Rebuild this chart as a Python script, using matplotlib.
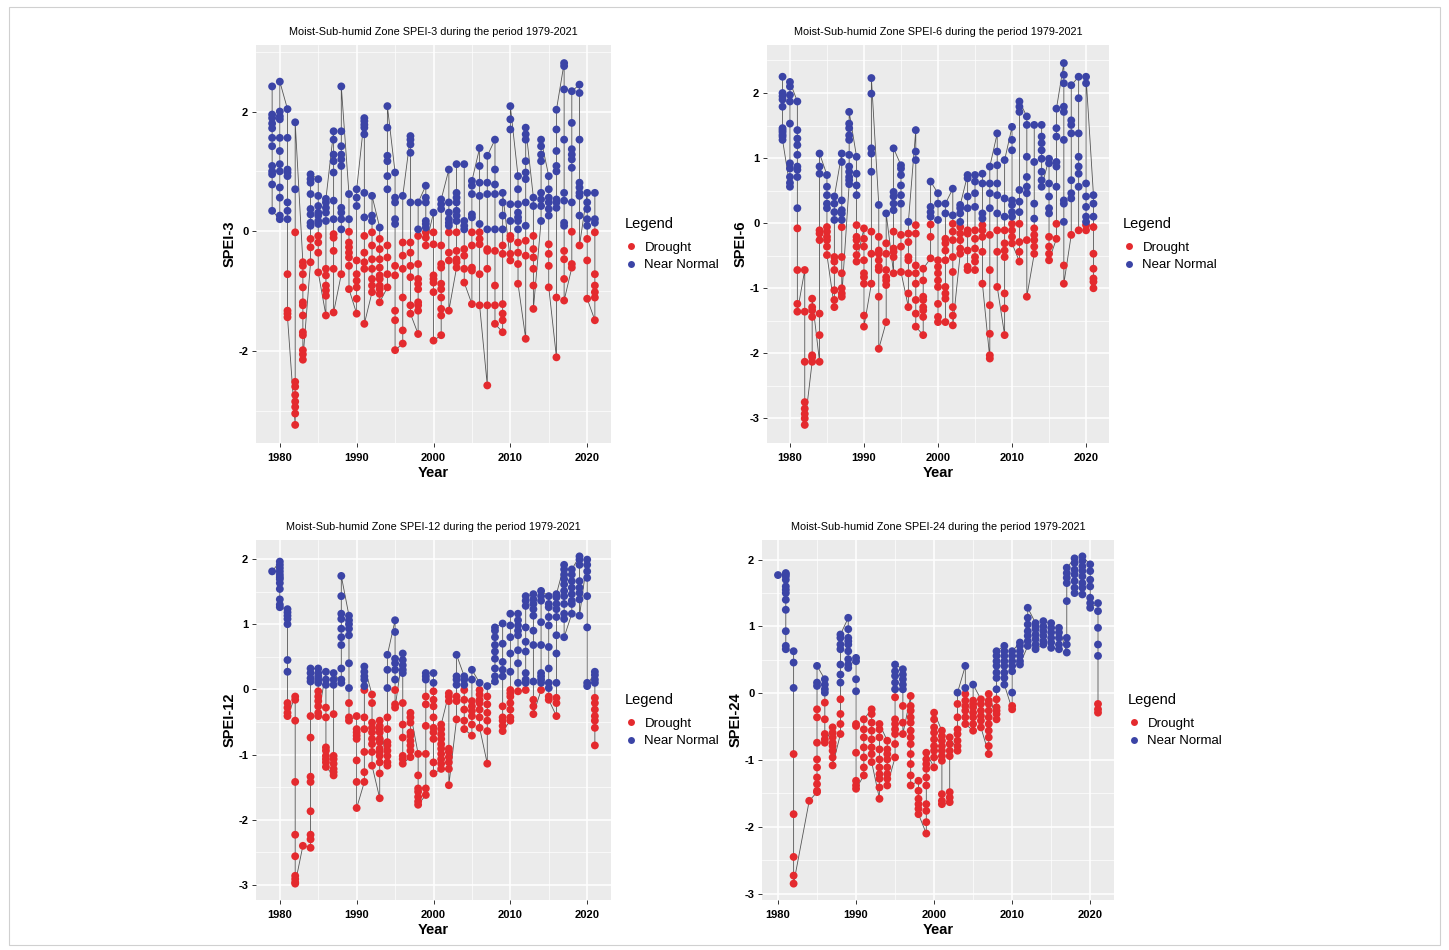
import numpy as np
import matplotlib.pyplot as plt
from matplotlib.lines import Line2D
from matplotlib.patches import Rectangle
from matplotlib.ticker import MultipleLocator

plt.rcParams['font.family'] = ['Liberation Sans', 'DejaVu Sans']
plt.rcParams['axes.unicode_minus'] = False

# Years 1979..2021, one list of monthly values per year
years = list(range(1979, 2022))

spei3 = [
	[2.42, 1.95, 1.89, 1.8, 1.72, 1.56, 1.42, 1.09, 1.0, 0.95, 0.78, 0.34],
	[2.5, 2.0, 1.92, 1.87, 1.56, 1.34, 1.12, 1.0, 0.73, 0.56, 0.26, 0.2],
	[2.04, 1.56, 1.03, 0.98, 0.92, 0.48, 0.34, 0.2, -0.72, -1.33, -1.38, -1.44],
	[1.82, 0.7, -0.02, -2.52, -2.6, -2.74, -2.85, -2.94, -3.05, -3.24],
	[-0.52, -0.58, -0.72, -0.94, -1.19, -1.24, -1.41, -1.69, -1.74, -1.99, -2.06, -2.15],
	[0.95, 0.87, 0.81, 0.62, 0.37, 0.28, 0.14, 0.09, -0.13, -0.27, -0.52],
	[0.87, 0.59, 0.42, 0.31, 0.26, 0.17, 0.12, -0.08, -0.19, -0.36, -0.69],
	[0.54, 0.48, 0.39, 0.31, 0.17, -0.63, -0.74, -0.91, -0.99, -1.08, -1.41],
	[1.67, 1.53, 1.28, 1.17, 0.98, 0.51, 0.2, -0.05, -0.11, -0.33, -0.63, -1.36],
	[2.42, 1.67, 1.42, 1.28, 1.2, 1.09, 0.39, 0.31, 0.2, 0.03, -0.72],
	[0.62, 0.2, -0.01, -0.19, -0.27, -0.36, -0.44, -0.58, -0.97],
	[0.7, 0.56, 0.42, -0.49, -0.72, -0.83, -0.94, -1.13, -1.38],
	[1.89, 1.84, 1.78, 1.73, 1.62, 0.64, 0.23, -0.08, -0.36, -0.52, -0.63, -1.55],
	[0.59, 0.26, 0.17, -0.02, -0.24, -0.47, -0.63, -0.8, -0.91, -1.02],
	[0.06, -0.13, -0.3, -0.47, -0.61, -0.74, -0.8, -0.91, -0.97, -1.05, -1.19],
	[2.09, 1.73, 1.26, 1.17, 0.92, 0.7, -0.24, -0.44, -0.72, -0.94],
	[0.98, 0.56, 0.48, 0.2, 0.12, -0.58, -0.74, -1.33, -1.49, -1.99],
	[0.59, -0.19, -0.41, -0.63, -1.11, -1.66, -1.88],
	[1.59, 1.53, 1.45, 1.31, 0.48, -0.19, -0.36, -0.58, -0.77, -1.24, -1.38],
	[0.48, 0.03, -0.08, -0.55, -0.8, -0.88, -0.97, -1.19, -1.24, -1.33, -1.72],
	[0.76, 0.56, 0.48, 0.17, 0.12, 0.06, -0.02, -0.11, -0.24],
	[0.31, -0.02, -0.22, -0.74, -0.8, -0.86, -1.02, -1.83],
	[0.53, 0.45, 0.37, -0.24, -0.55, -0.61, -0.88, -0.97, -1.11, -1.3, -1.41, -1.74],
	[1.03, 0.48, 0.31, 0.2, 0.14, 0.09, -0.02, -0.36, -0.49, -1.33],
	[1.12, 0.64, 0.56, 0.48, 0.34, 0.26, 0.17, -0.02, -0.33, -0.47, -0.52, -0.61],
	[1.12, 0.17, 0.09, 0.03, -0.3, -0.41, -0.63, -0.86],
	[0.84, 0.76, 0.62, 0.28, 0.23, -0.02, -0.24, -0.61, -0.66, -1.22],
	[1.39, 1.09, 0.81, 0.59, 0.12, -0.02, -0.13, -0.22, -0.72, -1.24],
	[1.26, 0.81, 0.62, 0.03, -0.3, -0.33, -0.63, -1.24, -2.58],
	[1.53, 1.03, 0.78, 0.62, 0.03, -0.33, -0.91, -1.24, -1.55],
	[0.64, 0.48, 0.26, 0.03, -0.24, -0.38, -1.22, -1.38, -1.49, -1.69],
	[2.09, 1.87, 1.7, 0.45, 0.17, -0.08, -0.13, -0.38, -0.49],
	[0.92, 0.7, 0.45, 0.31, 0.23, 0.17, 0.03, -0.19, -0.36, -0.55, -0.88],
	[1.73, 1.62, 1.53, 1.17, 0.98, 0.87, 0.48, 0.09, -0.16, -0.41, -1.8],
	[0.56, 0.42, -0.08, -0.3, -0.44, -0.63, -0.91, -1.3],
	[1.53, 1.42, 1.28, 1.17, 0.64, 0.53, 0.42, 0.17],
	[0.92, 0.7, 0.56, 0.48, 0.37, 0.26, -0.22, -0.38, -0.58, -0.94],
	[2.03, 1.7, 1.34, 1.09, 1.0, 0.53, 0.48, 0.39, -1.11, -2.11],
	[2.81, 2.76, 2.37, 1.53, 0.64, 0.51, 0.14, 0.09, -0.33, -0.47, -0.8, -1.16],
	[2.34, 1.81, 1.37, 1.28, 1.2, 1.06, 0.48, -0.01, -0.55, -0.61],
	[2.45, 2.31, 1.53, 0.81, 0.73, 0.64, 0.59, 0.26, -0.24],
	[0.64, 0.48, 0.37, 0.2, 0.09, -0.13, -0.49, -1.13],
	[0.64, 0.2, 0.14, -0.02, -0.72, -0.91, -1.02, -1.11, -1.49],
]

spei6 = [
	[2.25, 2.0, 1.95, 1.9, 1.79, 1.46, 1.43, 1.4, 1.36, 1.33, 1.28],
	[2.17, 2.1, 1.97, 1.87, 1.53, 0.92, 0.84, 0.71, 0.62, 0.56],
	[1.87, 1.43, 1.3, 1.2, 1.05, 0.87, 0.82, 0.71, 0.23, -0.08, -0.72, -1.24, -1.36],
	[-0.72, -1.36, -2.13, -2.75, -2.85, -2.93, -3.0, -3.1],
	[-1.16, -1.29, -1.34, -1.44, -2.03, -2.06, -2.13],
	[1.07, 0.87, 0.76, -0.11, -0.16, -0.26, -1.39, -1.72, -2.13],
	[0.74, 0.56, 0.43, 0.3, 0.23, -0.06, -0.13, -0.21, -0.26, -0.36, -0.49],
	[0.41, 0.3, 0.17, 0.05, -0.52, -0.59, -0.72, -1.03, -1.18, -1.29],
	[1.07, 0.94, 0.35, 0.2, 0.15, 0.05, -0.06, -0.52, -0.77, -1.0, -1.08, -1.13],
	[1.71, 1.53, 1.46, 1.35, 1.28, 1.05, 0.87, 0.79, 0.71, 0.66, 0.6],
	[1.02, 0.76, 0.58, 0.43, -0.03, -0.21, -0.26, -0.36, -0.49, -0.59],
	[-0.08, -0.24, -0.36, -0.57, -0.77, -0.83, -0.93, -1.42, -1.59],
	[2.23, 1.99, 1.15, 1.07, 0.79, -0.13, -0.47, -0.93],
	[0.28, -0.21, -0.42, -0.47, -0.57, -0.67, -0.72, -1.13, -1.93],
	[0.15, -0.31, -0.47, -0.72, -0.83, -0.88, -0.95, -1.52],
	[1.15, 0.48, 0.41, 0.3, 0.2, -0.13, -0.39, -0.44, -0.52, -0.77],
	[0.89, 0.84, 0.74, 0.58, 0.43, 0.3, -0.18, -0.36, -0.75],
	[0.02, -0.16, -0.29, -0.52, -0.57, -0.77, -1.08, -1.29],
	[1.43, 1.1, 0.97, -0.03, -0.16, -0.65, -0.77, -0.93, -1.18, -1.39, -1.59],
	[-0.7, -0.88, -1.13, -1.18, -1.29, -1.34, -1.44, -1.72],
	[0.64, 0.25, 0.17, 0.1, -0.02, -0.21, -0.54],
	[0.46, 0.3, 0.05, -0.57, -0.67, -0.77, -0.88, -0.98, -1.24, -1.44, -1.52],
	[0.3, 0.15, -0.24, -0.31, -0.42, -0.57, -0.98, -1.08, -1.16, -1.52],
	[0.53, 0.12, -0.01, -0.13, -0.26, -0.52, -0.75, -1.29, -1.42, -1.57],
	[0.28, 0.23, 0.15, 0.02, -0.06, -0.16, -0.26, -0.39, -0.47],
	[0.74, 0.69, 0.41, 0.23, -0.11, -0.16, -0.42, -0.67, -0.72],
	[0.74, 0.64, 0.46, 0.25, -0.11, -0.24, -0.39, -0.52, -0.59, -0.72],
	[0.76, 0.61, 0.15, 0.07, -0.03, -0.11, -0.21, -0.44, -0.93],
	[0.87, 0.61, 0.46, 0.23, -0.18, -0.72, -1.26, -1.7, -2.03, -2.08],
	[1.38, 1.1, 0.89, 0.61, 0.43, 0.15, -0.11, -0.44, -0.98],
	[0.97, 0.38, 0.1, -0.11, -0.31, -0.42, -0.52, -1.08, -1.31, -1.72],
	[1.48, 1.28, 1.12, 0.35, 0.28, 0.17, 0.1, -0.01, -0.11, -0.21, -0.31],
	[1.87, 1.79, 1.71, 0.51, 0.33, 0.17, -0.01, -0.29, -0.44, -0.59],
	[1.64, 1.51, 1.02, 0.71, 0.56, 0.46, -0.26, -1.13],
	[1.51, 0.94, 0.3, 0.07, -0.08, -0.18, -0.26, -0.36, -0.47],
	[1.51, 1.33, 1.23, 1.12, 0.99, 0.79, 0.66, 0.56],
	[0.99, 0.92, 0.61, 0.41, 0.23, 0.15, -0.21, -0.36, -0.47, -0.57],
	[1.76, 1.46, 1.33, 0.94, 0.87, 0.56, -0.01, -0.24],
	[2.46, 2.28, 2.15, 1.79, 1.71, 1.28, 0.35, 0.3, 0.02, -0.65, -0.93],
	[2.12, 1.58, 1.51, 1.38, 0.66, 0.46, 0.38, -0.18],
	[2.25, 1.92, 1.38, 1.02, 0.87, 0.76, 0.56, -0.11],
	[2.25, 2.15, 0.61, 0.41, 0.25, 0.1, 0.02, -0.03, -0.11],
	[0.43, 0.3, 0.1, -0.06, -0.47, -0.7, -0.85, -0.9, -1.0],
]

spei12 = [
	[1.81],
	[1.96, 1.91, 1.86, 1.81, 1.76, 1.72, 1.69, 1.63, 1.54, 1.38, 1.3, 1.26],
	[1.23, 1.18, 1.13, 1.08, 1.0, 0.45, 0.27, -0.21, -0.28, -0.36, -0.41],
	[-0.11, -0.16, -0.48, -1.42, -2.23, -2.56, -2.86, -2.91, -2.96, -2.98],
	[-2.4],
	[0.32, 0.25, 0.17, 0.12, -0.41, -0.74, -1.34, -1.42, -1.87, -2.23, -2.3, -2.43],
	[0.32, 0.25, 0.2, 0.15, 0.1, -0.03, -0.11, -0.18, -0.26, -0.36, -0.41],
	[0.27, 0.15, 0.07, -0.28, -0.43, -0.89, -0.94, -1.02, -1.07, -1.12, -1.19],
	[0.25, 0.15, 0.07, -0.38, -1.02, -1.07, -1.14, -1.22, -1.27, -1.32],
	[1.74, 1.43, 1.16, 1.08, 0.93, 0.8, 0.68, 0.32, 0.15, 0.1],
	[1.13, 1.06, 1.0, 0.93, 0.83, 0.4, 0.02, -0.21, -0.43, -0.48],
	[-0.41, -0.61, -0.66, -0.71, -0.76, -1.09, -1.42, -1.82],
	[0.35, 0.27, 0.2, 0.15, 0.05, -0.01, -0.43, -0.61, -0.96, -1.27, -1.42],
	[-0.08, -0.21, -0.51, -0.59, -0.66, -0.76, -0.84, -0.96, -1.17],
	[-0.48, -0.56, -0.61, -0.66, -0.76, -0.81, -0.91, -0.96, -1.02, -1.12, -1.29, -1.67],
	[0.53, 0.3, 0.02, -0.43, -0.61, -0.81, -0.86, -0.94, -1.02, -1.12, -1.17],
	[1.06, 0.88, 0.47, 0.4, 0.3, 0.15, -0.01, -0.23, -0.28],
	[0.55, 0.45, 0.37, 0.3, 0.25, -0.21, -0.54, -0.74, -1.02, -1.07, -1.14],
	[-0.36, -0.43, -0.51, -0.66, -0.71, -0.79, -0.86, -0.94, -1.04],
	[-0.99, -1.32, -1.52, -1.57, -1.65, -1.72, -1.77],
	[0.25, 0.2, 0.15, -0.11, -0.23, -0.56, -0.99, -1.52, -1.62],
	[0.25, 0.1, -0.03, -0.16, -0.26, -0.43, -0.59, -0.66, -0.76, -1.12, -1.29],
	[-0.54, -0.61, -0.69, -0.76, -0.84, -0.91, -0.99, -1.07, -1.14, -1.22],
	[-0.06, -0.11, -0.18, -0.91, -0.96, -1.04, -1.12, -1.22, -1.47],
	[0.53, 0.2, 0.15, 0.07, -0.11, -0.18, -0.46],
	[0.2, 0.15, 0.07, -0.01, -0.16, -0.31, -0.48, -0.61],
	[0.3, 0.15, -0.18, -0.26, -0.33, -0.41, -0.54, -0.71],
	[0.1, -0.01, -0.08, -0.16, -0.21, -0.31, -0.43, -0.59],
	[0.05, -0.11, -0.23, -0.36, -0.48, -0.64, -1.14],
	[0.95, 0.9, 0.8, 0.68, 0.58, 0.47, 0.32, 0.2, 0.12],
	[1.01, 0.7, 0.42, 0.3, 0.2, -0.26, -0.43, -0.48, -0.56, -0.64],
	[1.16, 0.98, 0.8, 0.55, 0.27, -0.01, -0.06, -0.11, -0.21, -0.31, -0.43, -0.48],
	[1.16, 1.06, 0.98, 0.9, 0.83, 0.6, 0.4, 0.1, -0.03],
	[1.43, 1.36, 1.28, 0.95, 0.73, 0.58, 0.25, 0.15, 0.1, -0.01],
	[1.46, 1.38, 1.31, 1.23, 1.13, 0.9, 0.68, 0.12, -0.16, -0.26, -0.38],
	[1.51, 1.43, 1.36, 1.03, 0.68, 0.25, 0.2, 0.15, 0.1, -0.01],
	[1.43, 1.31, 1.26, 1.11, 0.98, 0.65, 0.32, 0.1, 0.02, -0.11, -0.16],
	[1.46, 1.41, 1.31, 1.23, 1.11, 0.83, 0.55, 0.1, -0.13, -0.21, -0.41],
	[1.91, 1.84, 1.76, 1.69, 1.61, 1.51, 1.43, 1.31, 1.16, 1.08, 0.8],
	[1.84, 1.76, 1.66, 1.56, 1.46, 1.36, 1.31, 1.16],
	[2.04, 1.99, 1.91, 1.66, 1.56, 1.48, 1.38, 1.13],
	[1.99, 1.91, 1.81, 1.71, 1.43, 0.95, 0.1, 0.05],
	[0.27, 0.22, 0.15, 0.1, -0.13, -0.21, -0.31, -0.41, -0.48, -0.59, -0.86],
]

spei24 = [
	[],
	[1.77],
	[1.8, 1.78, 1.75, 1.7, 1.6, 1.55, 1.5, 1.4, 1.25, 0.93, 0.71, 0.66],
	[0.63, 0.46, 0.08, -0.91, -1.81, -2.45, -2.73, -2.85],
	[],
	[-1.61],
	[0.41, 0.16, 0.11, -0.24, -0.36, -0.74, -0.99, -1.11, -1.26, -1.36, -1.46, -1.48],
	[0.21, 0.13, 0.06, 0.01, -0.14, -0.39, -0.61, -0.69, -0.74],
	[-0.51, -0.59, -0.66, -0.74, -0.79, -0.86, -0.96, -1.08],
	[0.88, 0.83, 0.73, 0.66, 0.43, 0.28, 0.16, -0.09, -0.31, -0.46, -0.61],
	[1.13, 0.96, 0.83, 0.78, 0.73, 0.63, 0.51, 0.43, 0.38],
	[0.53, 0.48, 0.21, 0.03, -0.46, -0.49, -0.89, -1.31, -1.38, -1.43],
	[-0.39, -0.54, -0.66, -0.81, -0.96, -1.11, -1.23],
	[-0.24, -0.31, -0.44, -0.56, -0.69, -0.81, -0.91, -1.03],
	[-0.46, -0.54, -0.66, -0.84, -0.99, -1.11, -1.21, -1.28, -1.41, -1.58],
	[-0.71, -0.84, -0.91, -0.99, -1.11, -1.21, -1.28, -1.38],
	[0.43, 0.33, 0.26, 0.16, 0.06, -0.06, -0.39, -0.46, -0.54, -0.61, -0.76, -0.96],
	[0.36, 0.28, 0.21, 0.13, 0.06, -0.19, -0.44, -0.61],
	[-0.04, -0.19, -0.26, -0.36, -0.44, -0.56, -0.66, -0.76, -0.91, -1.06, -1.23, -1.38],
	[-1.31, -1.46, -1.58, -1.66, -1.73, -1.81],
	[-0.89, -0.99, -1.06, -1.13, -1.26, -1.38, -1.66, -1.76, -1.93, -2.1],
	[-0.29, -0.39, -0.51, -0.59, -0.69, -0.79, -0.86, -0.96, -1.11],
	[-0.56, -0.64, -0.71, -0.79, -0.86, -0.94, -1.01, -1.51, -1.61, -1.66],
	[-0.66, -0.76, -0.86, -0.94, -1.48, -1.56, -1.63],
	[0.01, -0.16, -0.36, -0.54, -0.61, -0.71, -0.79, -0.86],
	[0.41, 0.08, -0.01, -0.11, -0.19, -0.26, -0.36, -0.46],
	[0.13, -0.11, -0.16, -0.21, -0.29, -0.36, -0.46, -0.56],
	[-0.09, -0.16, -0.26, -0.34, -0.41, -0.51],
	[-0.01, -0.11, -0.16, -0.26, -0.36, -0.46, -0.56, -0.66, -0.79, -0.91],
	[0.63, 0.56, 0.48, 0.41, 0.31, 0.23, 0.06, -0.09, -0.21, -0.26, -0.31, -0.39],
	[0.71, 0.63, 0.56, 0.48, 0.41, 0.31, 0.23, 0.13],
	[0.63, 0.56, 0.48, 0.41, 0.33, 0.01, -0.19, -0.24],
	[0.76, 0.71, 0.63, 0.56, 0.48, 0.43],
	[1.28, 1.13, 1.03, 0.93, 0.86, 0.78, 0.71],
	[1.05, 1.0, 0.96, 0.88, 0.81, 0.73, 0.66],
	[1.08, 1.0, 0.93, 0.86, 0.78, 0.73],
	[1.05, 0.98, 0.91, 0.83, 0.76, 0.68],
	[0.98, 0.91, 0.83, 0.73, 0.66],
	[1.88, 1.8, 1.73, 1.65, 1.38, 0.83, 0.73, 0.61],
	[2.02, 1.95, 1.85, 1.78, 1.68, 1.58, 1.5],
	[2.05, 1.98, 1.9, 1.83, 1.75, 1.65, 1.58, 1.48],
	[1.93, 1.83, 1.7, 1.6, 1.43, 1.35, 1.28],
	[1.35, 1.23, 0.98, 0.73, 0.56, -0.16, -0.24, -0.29],
]

scales = ["3", "6", "12", "24"]
categories = ["Drought", "Near Normal"]
colors = {"Drought": "#E42A2E", "Near Normal": "#3B44A6"}

W, H = 1449, 950

def box(left, top, right, bottom):
	"""pixel box -> figure fraction rect"""
	return [left / W, 1 - bottom / H, (right - left) / W, (bottom - top) / H]

boxes = [box(256, 45, 611, 443), box(767, 45, 1109, 443),
	box(256, 540, 611, 900), box(762, 540, 1114, 900)]

def series(vals):
	"""flatten per-year lists, keeping the line path short between years"""
	xs, ys = [], []
	last = None
	for yr, v in zip(years, vals):
		if not v:
			continue
		v = sorted(v, reverse=True)
		if last is not None and abs(last - v[-1]) < abs(last - v[0]):
			v = v[::-1]
		xs += [yr] * len(v)
		ys += v
		last = ys[-1]
	return np.array(xs), np.array(ys)

fig = plt.figure(figsize=(W / 100, H / 100), dpi=100)
fig.add_artist(Rectangle((0.006, 0.005), 0.988, 0.988, transform=fig.transFigure,
	fill=False, edgecolor="#D0D0D0", linewidth=0.8))

for scale, vals, rect in zip(scales, [spei3, spei6, spei12, spei24], boxes):
	ax = fig.add_axes(rect)
	ax.set_facecolor("#EBEBEB")
	for s in ax.spines.values():
		s.set_visible(False)
	x, y = series(vals)
	ax.plot(x, y, color="#555555", linewidth=0.6, zorder=2)
	cat = np.where(y < 0, "Drought", "Near Normal")
	for c in categories:
		m = cat == c
		ax.scatter(x[m], y[m], s=32, color=colors[c], edgecolors="none", zorder=3)
	ax.margins(0.05)
	ax.xaxis.set_major_locator(MultipleLocator(10))
	ax.xaxis.set_minor_locator(MultipleLocator(5))
	ax.yaxis.set_major_locator(MultipleLocator(1 if scale != "3" else 2))
	ax.yaxis.set_minor_locator(MultipleLocator(0.5 if scale != "3" else 1))
	ax.grid(which="major", color="white", linewidth=1.1, zorder=0)
	ax.grid(which="minor", color="white", linewidth=0.5, zorder=0)
	ax.set_axisbelow(True)
	ax.tick_params(which="major", length=3, width=0.7, color="#333333", labelsize=8)
	ax.tick_params(axis="x", pad=4.5)
	ax.tick_params(axis="y", pad=2.5)
	ax.tick_params(which="minor", length=0)
	for lab in ax.get_xticklabels() + ax.get_yticklabels():
		lab.set_fontweight("bold")
	ax.set_title(f"Moist-Sub-humid Zone SPEI-{scale} during the period 1979-2021",
		fontsize=7.8, pad=7)
	ax.set_xlabel("Year", fontsize=10.5, fontweight="bold", labelpad=2)
	ax.set_ylabel(f"SPEI-{scale}", fontsize=10.5, fontweight="bold", labelpad=1)
	handles = [Line2D([], [], linestyle="none", marker="o", markersize=5,
		markerfacecolor=colors[c], markeredgecolor="none") for c in categories]
	leg = ax.legend(handles, categories, title="Legend", loc="center left",
		bbox_to_anchor=(1.005, 0.5), frameon=False, fontsize=9.5,
		title_fontsize=10.5, handlelength=1.0, handletextpad=0.5,
		labelspacing=0.4)
	leg._legend_box.align = "left"
	leg._legend_box.sep = 8

fig.savefig("out.png", dpi=100)
